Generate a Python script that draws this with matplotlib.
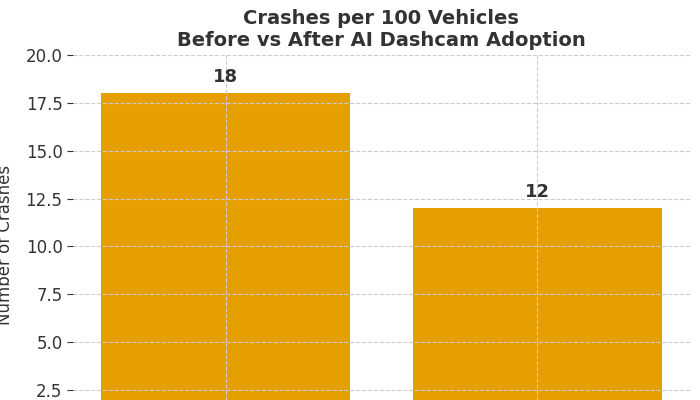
import matplotlib
matplotlib.use("Agg")
import matplotlib.pyplot as plt

categories = ["Before AI Dashcam", "After AI Dashcam"]
values = [18, 12]

fig = plt.figure(figsize=(7, 4), dpi=100)
ax = fig.add_axes([73/700, 0, (690-73)/700, (400-55)/400])
bars = ax.bar(categories, values, width=0.8, color="#E69F00", zorder=1)
ax.set_axisbelow(False)
ax.set_ylim(1.98, 20)
ax.set_xlim(-0.49, 1.49)
ax.set_yticks([2.5, 5.0, 7.5, 10.0, 12.5, 15.0, 17.5, 20.0])
ax.tick_params(axis="y", labelsize=12, colors="#333333", length=4)
ax.tick_params(axis="x", labelbottom=False, length=0)
ax.grid(True, linestyle="--", color="#cccccc", linewidth=0.8, zorder=3)
for s in ax.spines.values():
    s.set_visible(False)
ax.set_ylabel("Number of Crashes", fontsize=12, color="#333333", labelpad=8)
ax.yaxis.set_label_coords(-0.095, 0.45)
for b, v in zip(bars, values):
    ax.text(b.get_x() + b.get_width()/2, v + 0.4, str(v), ha="center", va="bottom",
            fontsize=13, fontweight="bold", color="#333333", zorder=4)
fig.text(381/700, 1 - 29/400, "Crashes per 100 Vehicles\nBefore vs After AI Dashcam Adoption",
         ha="center", va="center", fontsize=14, fontweight="bold", color="#333333")
fig.savefig("out.png", dpi=100)
